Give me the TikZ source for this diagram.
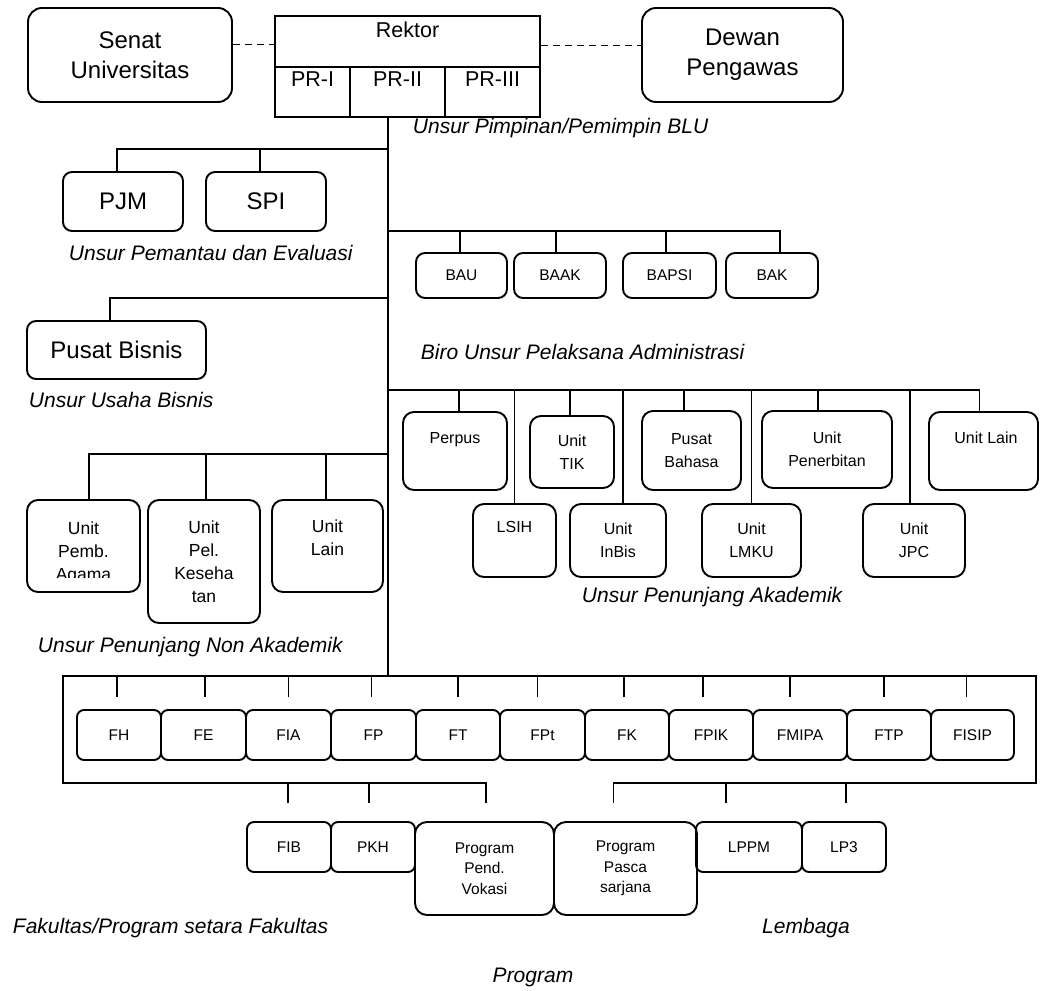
\documentclass[tikz,border=0pt]{standalone}
\usepackage{fontspec}
\setmainfont{Liberation Sans}
\usetikzlibrary{calc,positioning}

\begin{document}
\begin{tikzpicture}[x=1pt,y=-1pt,line width=1.9pt,
  box/.style={draw,rounded corners=9pt,inner sep=0pt,align=center},
  cell/.style={draw,inner sep=0pt},
  txt/.style={inner sep=0pt,align=center},
  sz/.style 2 args={minimum width=#1,minimum height=#2},
  fbig/.style={font=\fontsize{24}{30}\selectfont},
  fmid/.style={font=\fontsize{21.5}{26}\selectfont},
  funit/.style={font=\fontsize{17.5}{23}\selectfont},
  fsm/.style={font=\fontsize{16}{22.5}\selectfont},
  fxs/.style={font=\fontsize{15.5}{20.5}\selectfont},
  lbl/.style={font=\fontsize{21}{25}\selectfont\itshape,anchor=west,inner sep=0pt}]
 \useasboundingbox (0,0) rectangle (1040,990);

 % pimpinan
 \node[box,fbig,sz={204}{94},rounded corners=14pt] (senat) at (130,55) {Senat\\Universitas};
 \node[box,fbig,sz={201}{94},rounded corners=14pt] (dewan) at (742.5,55) {Dewan\\Pengawas};
 \node[cell,sz={265}{51}] (rektor) at (407.5,41.5) {};
 \node[cell,sz={75}{50}] (pr1) at (312.5,92) {};
 \node[cell,sz={95}{50}] (pr2) at (397.5,92) {};
 \node[cell,sz={95}{50}] (pr3) at (492.5,92) {};
 \node[txt,fmid] (rektor-t) at (407.5,30) {Rektor};
 \node[txt,fmid] (pr1-t) at (312.5,79) {PR-I};
 \node[txt,fmid] (pr2-t) at (397.5,79) {PR-II};
 \node[txt,fmid] (pr3-t) at (492.5,79) {PR-III};
 \draw[dash pattern=on 7pt off 5pt] ([yshift=-3pt]senat.east |- rektor.west) -- ([yshift=-3pt]rektor.west);
 \draw[dash pattern=on 7pt off 5pt] ([yshift=-4pt]rektor.east) -- ([yshift=-4pt]rektor.east -| dewan.west);
 \node[lbl] (l-pimpinan) at (412,128) {Unsur Pimpinan/Pemimpin BLU};

 % batang utama
 \coordinate (j-pem) at (388,149);
 \coordinate (j-biro) at (388,231);
 \coordinate (j-bis) at (388,298);
 \coordinate (j-aka) at (388,390);
 \coordinate (j-non) at (388,454);
 \coordinate (trunk) at (388,676);
 \draw (pr2.south -| trunk) -- (trunk);

 % pemantau
 \node[box,fbig,sz={120}{59}] (pjm) at (123,201.5) {PJM};
 \node[box,fbig,sz={120}{59}] (spi) at (266,201.5) {SPI};
 \foreach \n in {pjm,spi} \draw ([xshift=-6pt]\n.north) |- (j-pem);
 \node[lbl] (l-pemantau) at (68,253) {Unsur Pemantau dan Evaluasi};

 % biro
 \foreach \n/\t/\x/\w in {bau/BAU/461.5/91,baak/BAAK/560/92,bapsi/BAPSI/669.5/93,bak/BAK/772/92}
   \node[box,fxs,sz={\w}{45}] (\n) at (\x,275.5) {\t};
 \foreach \n/\d in {bau/-1.5,baak/-4,bapsi/-3.5,bak/8} \draw ([xshift=\d pt]\n.north) |- (j-biro);
 \node[lbl] (l-biro) at (420,352) {Biro Unsur Pelaksana Administrasi};

 % bisnis
 \node[box,fbig,sz={179}{58}] (bisnis) at (116.5,350) {Pusat Bisnis};
 \draw ([xshift=-6.5pt]bisnis.north) |- (j-bis);
 \node[lbl] (l-bisnis) at (28,400) {Unsur Usaha Bisnis};

 % penunjang akademik
 \node[box,fsm,sz={104}{78},rounded corners=11pt] (perpus) at (455,451) {};
 \node[txt,fsm] (perpus-t) at (455,440) {Perpus};
 \node[box,fsm,sz={84}{72},rounded corners=11pt] (tik) at (572,452) {Unit\\TIK};
 \node[box,fsm,sz={99}{79},rounded corners=11pt] (bahasa) at (691.5,450.5) {Pusat\\Bahasa};
 \node[box,fsm,sz={130}{77},rounded corners=11pt] (terbit) at (827,449.5) {Unit\\Penerbitan};
 \node[box,fsm,sz={109}{78},rounded corners=11pt] (lain) at (983.5,451) {};
 \node[txt,fsm] (lain-t) at (986,438) {Unit Lain};
 \node[box,fsm,sz={83}{73},rounded corners=11pt] (lsih) at (514.5,540.5) {};
 \node[txt,fsm] (lsih-t) at (514.5,527) {LSIH};
 \node[box,fsm,sz={96}{73},rounded corners=11pt] (inbis) at (618,540.5) {Unit\\InBis};
 \node[box,fsm,sz={99}{73},rounded corners=11pt] (lmku) at (751.5,540.5) {Unit\\LMKU};
 \node[box,fsm,sz={102}{73},rounded corners=11pt] (jpc) at (914,540.5) {Unit\\JPC};
 \foreach \n/\d in {perpus/4,lsih/0,tik/-2,inbis/5,bahasa/-7.5,lmku/0,terbit/-9,jpc/-4,lain/-4}
   \draw ([xshift=\d pt]\n.north) |- (j-aka);
 \node[lbl] (l-akad) at (581,597) {Unsur Penunjang Akademik};

 % penunjang non akademik
 \node[box,sz={113}{92},rounded corners=11pt] (agama) at (83.5,546) {};
 \begin{scope}
  \clip (27,490) rectangle (140,577);
  \node[txt,funit] (agama-t) at (83.5,553) {Unit\\Pemb.\\Agama};
 \end{scope}
 \node[box,funit,sz={112}{123},rounded corners=11pt] (sehat) at (204,561.5) {Unit\\Pel.\\Keseha\\tan};
 \node[box,sz={111}{92},rounded corners=11pt] (lain2) at (327.5,546) {};
 \node[txt,funit] (lain2-t) at (327.5,538) {Unit\\Lain};
 \foreach \n/\d in {agama/5.5,sehat/2,lain2/-1.5} \draw ([xshift=\d pt]\n.north) |- (j-non);
 \node[lbl] (l-nonakad) at (37,647) {Unsur Penunjang Non Akademik};

 % fakultas
 \foreach \n/\t/\x/\w in {fh/FH/119/84,fe/FE/203.5/85,fia/FIA/288.5/85,fp/FP/373.5/85,
     ft/FT/458/84,fpt/FPt/542.5/85,fk/FK/627/84,fpik/FPIK/711/84,fmipa/FMIPA/800/94,
     ftp/FTP/889/84,fisip/FISIP/972.5/83}
   \node[box,fxs,sz={\w}{50},rounded corners=7pt] (\n) at (\x,735) {\t};
 \foreach \n/\d in {fh/-2,fe/1.5,fia/0,fp/-2,ft/0,fpt/-5,fk/-3,fpik/-8,fmipa/-10,ftp/-5,fisip/-6}
   \draw ([xshift=\d pt,yshift=12pt]\n.north) -- ([xshift=\d pt]\n.north |- trunk);

 \node[box,fxs,sz={84}{50},rounded corners=7pt] (fib) at (289,847) {FIB};
 \node[box,fxs,sz={84}{50},rounded corners=7pt] (pkh) at (373,847) {PKH};
 \node[box,fxs,sz={139}{93},rounded corners=12pt] (vokasi) at (484.5,868.5) {Program\\Pend.\\Vokasi};
 \node[box,fxs,sz={143}{93},rounded corners=12pt] (pasca) at (625.5,868.5) {Program\\Pasca\\sarjana};
 \node[box,fxs,sz={106}{50},rounded corners=7pt] (lppm) at (749,847) {LPPM};
 \node[box,fxs,sz={84}{50},rounded corners=7pt] (lp3) at (844,847) {LP3};

 \coordinate (fak-bl) at (63,783);
 \coordinate (fak-tr) at (1036,676);
 \draw ([xshift=1.5pt,yshift=18pt]vokasi.north) |- (fak-bl) |- (fak-tr) -- (fak-tr |- fak-bl)
   -| ([xshift=-12pt,yshift=18pt]pasca.north);
 \foreach \n/\d in {fib/-1,pkh/-4,lppm/-23,lp3/2}
   \draw ([xshift=\d pt,yshift=18pt]\n.north) -- ([xshift=\d pt]\n.north |- fak-bl);

 \node[lbl] (l-fakultas) at (12,928) {Fakultas/Program setara Fakultas};
 \node[lbl,anchor=center] (l-lembaga) at (806,928) {Lembaga};
 \node[lbl,anchor=center] (l-program) at (533,977) {Program};
\end{tikzpicture}
\end{document}
